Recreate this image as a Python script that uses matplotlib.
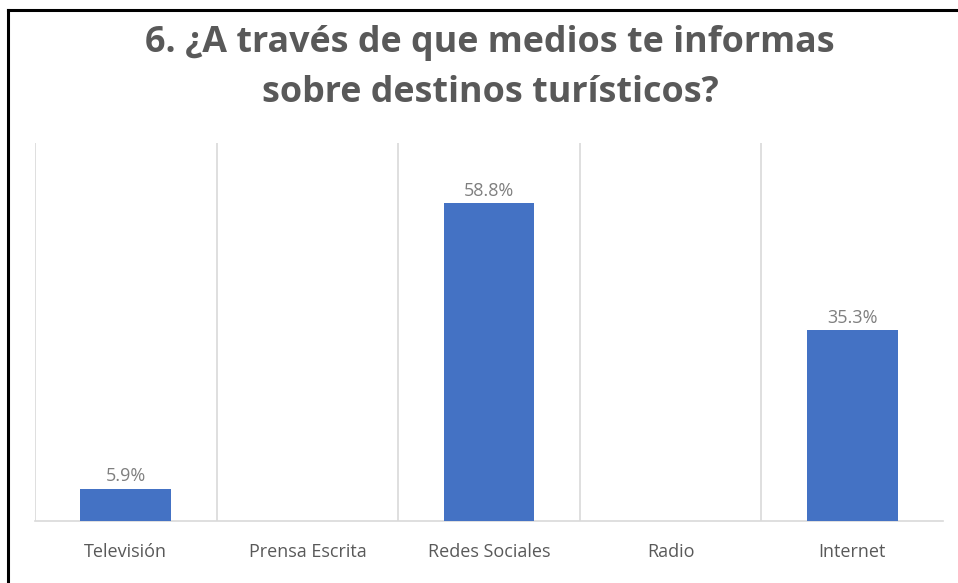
import matplotlib.pyplot as plt

# survey answers, percent of respondents
medios = ["Televisión", "Prensa Escrita", "Redes Sociales", "Radio", "Internet"]
porcentajes = [5.9, 0.0, 58.8, 0.0, 35.3]
etiquetas = ["5.9%", "", "58.8%", "", "35.3%"]

gris = "#595959"
azul = "#4472C4"

fig = plt.figure(figsize=(9.58, 5.83), dpi=100)
ax = fig.add_axes([35 / 958, 1 - 521 / 583, (943 - 35) / 958, (521 - 143) / 583])

x = range(len(medios))
bars = ax.bar(x, porcentajes, width=0.5, color=azul, zorder=3)

for b, txt in zip(bars, etiquetas):
    if txt:
        ax.text(b.get_x() + b.get_width() / 2, b.get_height() + 0.7, txt,
                ha="center", va="bottom", fontsize=13, color="#7F7F7F",
                family="Open Sans")

# category separators
for pos in [-0.5, 0.5, 1.5, 2.5, 3.5]:
    ax.axvline(pos, color="#D9D9D9", lw=1.2, zorder=1)

ax.set_xlim(-0.5, 4.5)
ax.set_ylim(0, 70)
ax.set_yticks([])
ax.set_xticks(list(x))
ax.set_xticklabels(medios, fontsize=13, color=gris, family="Open Sans")
ax.tick_params(axis="x", length=0, pad=16)
for side in ["top", "right", "left"]:
    ax.spines[side].set_visible(False)
ax.spines["bottom"].set_color("#D9D9D9")
ax.spines["bottom"].set_linewidth(1.2)

title_x = 490 / 958
fig.text(title_x, 1 - 43 / 583, "6. ¿A través de que medios te informas",
         ha="center", va="center", fontsize=25.8, fontweight="bold",
         color=gris, family="Open Sans")
fig.text(title_x, 1 - 93 / 583, "sobre destinos turísticos?",
         ha="center", va="center", fontsize=25.8, fontweight="bold",
         color=gris, family="Open Sans")

# outer frame, left and top edges
fig.add_artist(plt.Line2D([8 / 958, 8 / 958], [0, 1 - 10 / 583], color="black", lw=2.2,
                          transform=fig.transFigure))
fig.add_artist(plt.Line2D([8 / 958, 1], [1 - 10 / 583, 1 - 10 / 583], color="black", lw=2.2,
                          transform=fig.transFigure))

fig.savefig("out.png", dpi=100)
